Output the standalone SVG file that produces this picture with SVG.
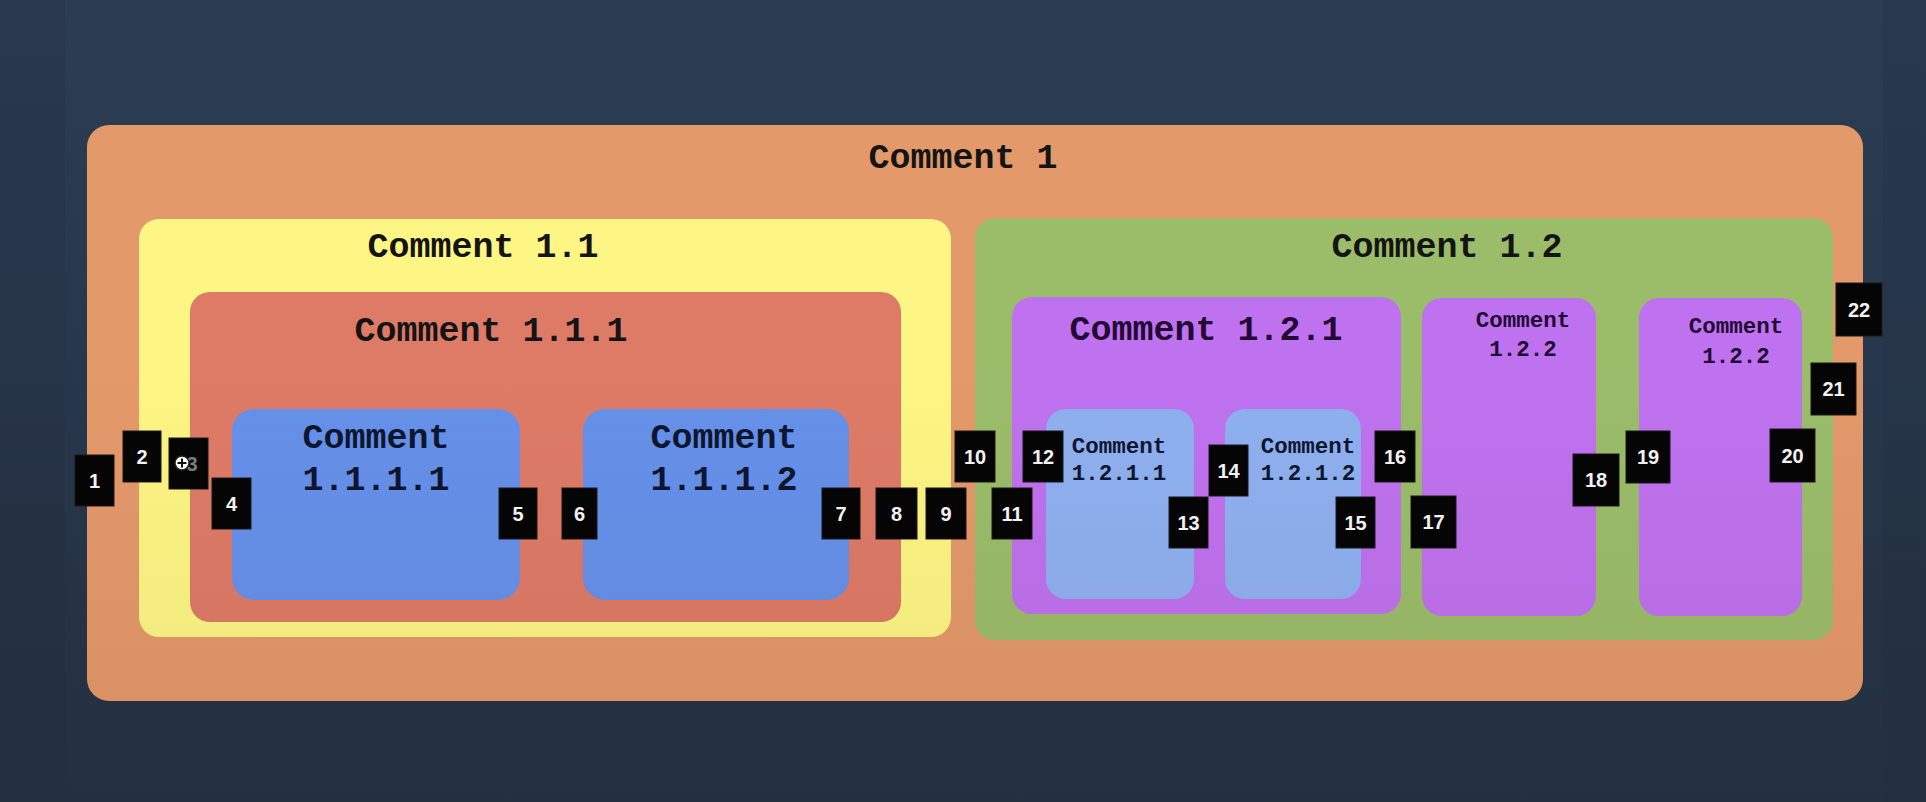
<svg xmlns="http://www.w3.org/2000/svg" width="1926" height="802" viewBox="0 0 1926 802">
<style>
.lbl{font-family:"Liberation Mono","Courier New",monospace;font-weight:bold;fill:#141414;text-anchor:middle}
.big{font-size:35px}
.sm{font-size:22.5px}
.nb{fill:#0e1530}
.np{fill:#220a33}
.badge rect{fill:#050505;stroke:#1a1a1a;stroke-width:1}
.badge text{font-family:"Liberation Sans",Arial,sans-serif;font-weight:bold;font-size:20px;fill:#f2f2f2;text-anchor:middle}
</style>
<defs>
<linearGradient id="bg" x1="0" y1="0" x2="0" y2="1">
<stop offset="0" stop-color="#2c3c52"/>
<stop offset="1" stop-color="#233244"/>
</linearGradient>
<linearGradient id="shade" x1="0" y1="0" x2="0" y2="1">
<stop offset="0" stop-color="#000" stop-opacity="0"/>
<stop offset="0.45" stop-color="#000" stop-opacity="0"/>
<stop offset="1" stop-color="#3a1a00" stop-opacity="0.07"/>
</linearGradient>
</defs>
<rect x="0" y="0" width="1926" height="802" fill="url(#bg)"/>
<rect x="0" y="0" width="65" height="802" fill="#1f2c3d" opacity="0.25"/>
<rect x="1883" y="0" width="43" height="802" fill="#1f2c3d" opacity="0.2"/>

<g id="comment-1">
<rect x="87" y="125" width="1776" height="576" rx="22" fill="#e4996a"/>
<text class="lbl big" x="963" y="168">Comment 1</text>
</g>

<g id="comment-1-1">
<rect x="139" y="219" width="812" height="418" rx="20" fill="#fdf684"/>
<text class="lbl big" x="483" y="257">Comment 1.1</text>
</g>

<g id="comment-1-1-1">
<rect x="190" y="292" width="711" height="330" rx="20" fill="#de7b67"/>
<text class="lbl big" x="491" y="341">Comment 1.1.1</text>
</g>

<g id="comment-1-1-1-1">
<rect x="232" y="409" width="288" height="191" rx="22" fill="#6691ea"/>
<text class="lbl big nb" x="376" y="448">Comment</text>
<text class="lbl big nb" x="376" y="490">1.1.1.1</text>
</g>

<g id="comment-1-1-1-2">
<rect x="583" y="409" width="266" height="191" rx="22" fill="#6691ea"/>
<text class="lbl big nb" x="724" y="448">Comment</text>
<text class="lbl big nb" x="724" y="490">1.1.1.2</text>
</g>

<g id="comment-1-2">
<rect x="975" y="218" width="858" height="422" rx="20" fill="#9bbd6a"/>
<text class="lbl big" x="1447" y="257">Comment 1.2</text>
</g>

<g id="comment-1-2-1">
<rect x="1012" y="297" width="389" height="317" rx="20" fill="#bf72ef"/>
<text class="lbl big np" x="1206" y="340">Comment 1.2.1</text>
</g>

<g id="comment-1-2-1-1">
<rect x="1046" y="409" width="148" height="190" rx="20" fill="#8fb0f0"/>
<text class="lbl sm nb" x="1119" y="453">Comment</text>
<text class="lbl sm nb" x="1119" y="480">1.2.1.1</text>
</g>

<g id="comment-1-2-1-2">
<rect x="1225" y="409" width="136" height="190" rx="20" fill="#8fb0f0"/>
<text class="lbl sm nb" x="1308" y="453">Comment</text>
<text class="lbl sm nb" x="1308" y="480">1.2.1.2</text>
</g>

<g id="comment-1-2-2-a">
<rect x="1422" y="298" width="174" height="318" rx="20" fill="#bf72ef"/>
<text class="lbl sm np" x="1523" y="327">Comment</text>
<text class="lbl sm np" x="1523" y="356">1.2.2</text>
</g>

<g id="comment-1-2-2-b">
<rect x="1639" y="298" width="163" height="318" rx="20" fill="#bf72ef"/>
<text class="lbl sm np" x="1736" y="333">Comment</text>
<text class="lbl sm np" x="1736" y="363">1.2.2</text>
</g>

<rect x="0" y="0" width="1926" height="802" fill="url(#shade)"/>

<g id="connectors"></g>

<g id="markers">
<g id="m1" class="badge"><rect x="75" y="455" width="39" height="51"/><text x="94.5" y="488">1</text></g>
<g id="m2" class="badge"><rect x="123" y="431" width="38" height="51"/><text x="142" y="464">2</text></g>
<g id="m3" class="badge"><rect x="169" y="438" width="39" height="51"/><text x="192" y="471" fill-opacity="0.5">3</text>
<circle cx="182" cy="463" r="7" fill="#ffffff" stroke="#222" stroke-width="1.5"/>
<path d="M182 458.5v9M177.5 463h9" stroke="#111" stroke-width="2"/></g>
<g id="m4" class="badge"><rect x="212" y="478" width="39" height="51"/><text x="231.5" y="511">4</text></g>
<g id="m5" class="badge"><rect x="499" y="488" width="38" height="51"/><text x="518" y="521">5</text></g>
<g id="m6" class="badge"><rect x="562" y="488" width="35" height="51"/><text x="579.5" y="521">6</text></g>
<g id="m7" class="badge"><rect x="822" y="488" width="38" height="51"/><text x="841" y="521">7</text></g>
<g id="m8" class="badge"><rect x="876" y="488" width="41" height="51"/><text x="896.5" y="521">8</text></g>
<g id="m9" class="badge"><rect x="926" y="488" width="40" height="51"/><text x="946" y="521">9</text></g>
<g id="m10" class="badge"><rect x="955" y="431" width="40" height="51"/><text x="975" y="464">10</text></g>
<g id="m11" class="badge"><rect x="992" y="488" width="40" height="51"/><text x="1012" y="521">11</text></g>
<g id="m12" class="badge"><rect x="1023" y="431" width="40" height="51"/><text x="1043" y="464">12</text></g>
<g id="m13" class="badge"><rect x="1169" y="497" width="39" height="51"/><text x="1188.5" y="530">13</text></g>
<g id="m14" class="badge"><rect x="1209" y="445" width="39" height="51"/><text x="1228.5" y="478">14</text></g>
<g id="m15" class="badge"><rect x="1336" y="497" width="39" height="51"/><text x="1355.5" y="530">15</text></g>
<g id="m16" class="badge"><rect x="1375" y="431" width="40" height="51"/><text x="1395" y="464">16</text></g>
<g id="m17" class="badge"><rect x="1411" y="496" width="45" height="52"/><text x="1433.5" y="529">17</text></g>
<g id="m18" class="badge"><rect x="1573" y="454" width="46" height="52"/><text x="1596" y="487">18</text></g>
<g id="m19" class="badge"><rect x="1626" y="431" width="44" height="52"/><text x="1648" y="464">19</text></g>
<g id="m20" class="badge"><rect x="1770" y="429" width="45" height="53"/><text x="1792.5" y="463">20</text></g>
<g id="m21" class="badge"><rect x="1811" y="363" width="45" height="52"/><text x="1833.5" y="396">21</text></g>
<g id="m22" class="badge"><rect x="1836" y="283" width="46" height="53"/><text x="1859" y="317">22</text></g>
</g>
</svg>
